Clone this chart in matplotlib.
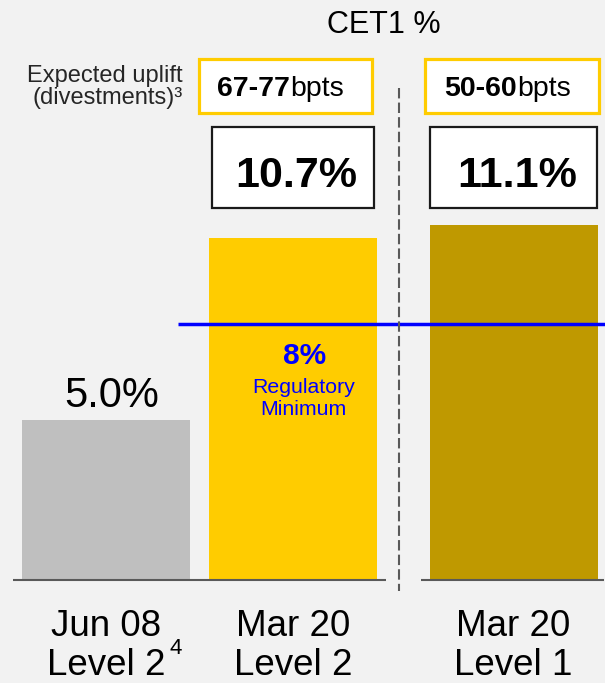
import matplotlib
matplotlib.use("Agg")
import matplotlib.pyplot as plt
from matplotlib.patches import Rectangle

# ---- data ----
categories = [("Jun 08", "Level 2"), ("Mar 20", "Level 2"), ("Mar 20", "Level 1")]
values = [5.0, 10.7, 11.1]
bar_colors = ["#bfbfbf", "#ffcc00", "#bf9900"]
uplift_bold = ["67-77", "50-60"]
uplift_unit = "bpts"
reg_minimum = 8
title = "CET1 %"

plt.rcParams['font.family'] = ['Liberation Sans', 'DejaVu Sans']

W, H = 605, 683
fig = plt.figure(figsize=(W / 100, H / 100), dpi=100)
fig.patch.set_facecolor("#f2f2f2")

# main axes: x in pixel-like layout units, y in CET1 %
ax = fig.add_axes([0, 0, 1, 1])
ax.set_facecolor("none")
ax.set_xlim(0, W)
px_per_unit = 32.0
base_px = 580
ax.set_ylim(-(H - base_px) / px_per_unit, base_px / px_per_unit)
ax.axis("off")

centers = [106, 293, 513.5]
bw = 168
ax.bar(centers, values, width=bw, color=bar_colors, zorder=2)

# baselines
ax.hlines(0, 13, 386, color="#595959", lw=1.5, zorder=3)
ax.hlines(0, 421, 604, color="#595959", lw=1.5, zorder=3)

# regulatory minimum line
ax.hlines(reg_minimum, 178, 605, color="#0000ff", lw=2.5, zorder=4)

# value label for first bar
ax.annotate(f"{values[0]:.1f}%", xy=(centers[0] + 6, values[0]), xytext=(0, 9.4),
            textcoords="offset points", ha="center", va="baseline",
            fontsize=30, color="black")

# overlay axes in pixel coordinates (layout)
ov = fig.add_axes([0, 0, 1, 1])
ov.set_xlim(0, W)
ov.set_ylim(H, 0)
ov.axis("off")
ov.patch.set_alpha(0)

# dashed separator
ov.vlines(399, 88, 591, color="#595959", lw=1.5, linestyles=(0, (5, 2)), zorder=1)

# title
ov.text(384, 33, title, ha="center", va="baseline", fontsize=22)

# expected uplift label
ov.text(183, 82, "Expected uplift", ha="right", va="baseline", fontsize=17, color="#262626")
ov.text(183, 104, "(divestments)³", ha="right", va="baseline", fontsize=17, color="#262626")

# uplift boxes
ubox = [(198.5, 58.5, 173, 54), (424.5, 58.5, 174, 54)]
splits = [290, 517]
for (x, y, w, h), b, s in zip(ubox, uplift_bold, splits):
    ov.add_patch(Rectangle((x, y), w, h, facecolor="white", edgecolor="#ffcc00", lw=2.3, zorder=2))
    ov.text(s, 96, b, ha="right", va="baseline", fontsize=20.5, fontweight="bold", zorder=3)
    ov.text(s, 96, uplift_unit, ha="left", va="baseline", fontsize=20.5, zorder=3)

# value boxes for bars 2 and 3
vbox = [(212, 127, 162, 81), (430, 127, 167, 81)]
vtext_x = [296.5, 517.5]
for (x, y, w, h), v, tx in zip(vbox, values[1:], vtext_x):
    ov.add_patch(Rectangle((x, y), w, h, facecolor="white", edgecolor="#1a1a1a", lw=1.6, zorder=2))
    ov.text(tx, 187, f"{v:.1f}%", ha="center", va="baseline", fontsize=31,
            fontweight="bold", zorder=3)

# regulatory minimum text
ov.text(304.5, 364, f"{reg_minimum}%", ha="center", va="baseline", fontsize=21.5,
        fontweight="bold", color="#0000ff", zorder=5)
ov.text(303.5, 393, "Regulatory", ha="center", va="baseline", fontsize=15.3,
        color="#0000ff", zorder=5)
ov.text(303.5, 415, "Minimum", ha="center", va="baseline", fontsize=15.3,
        color="#0000ff", zorder=5)

# category labels
label_x = [106, 293, 513.5]
for (l1, l2), lx in zip(categories, label_x):
    ov.text(lx, 636, l1, ha="center", va="baseline", fontsize=26.5)
    ov.text(lx, 675, l2, ha="center", va="baseline", fontsize=26.5)
ov.text(170, 654, "4", ha="left", va="baseline", fontsize=16)

fig.savefig("out.png", dpi=100, facecolor=fig.get_facecolor())
